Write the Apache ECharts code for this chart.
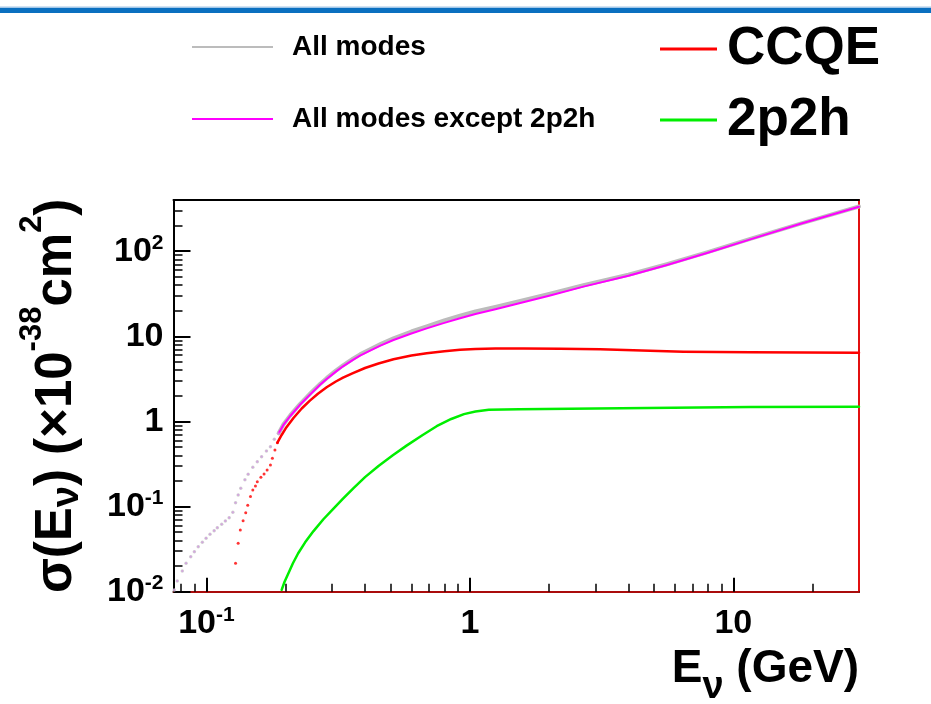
<!DOCTYPE html>
<html>
<head>
<meta charset="utf-8">
<script src="https://cdn.jsdelivr.net/npm/echarts@6.0.0/dist/echarts.min.js"></script>
<style>
  html, body { margin: 0; padding: 0; background: #ffffff; }
  #chart { width: 931px; height: 704px; }
</style>
</head>
<body>
<div id="chart"></div>
<script>
// Axis ranges: neutrino energy (GeV) and cross section (x 1e-38 cm^2)
const xRange = [0.075, 30];
const yRange = [0.01, 400];

// Tick positions and their labels ([mantissa, exponent])
const xMajorTicks = [0.1, 1, 10];
const xMinorTicks = [0.08, 0.09, 0.2, 0.3, 0.4, 0.5, 0.6, 0.7, 0.8, 0.9, 2, 3, 4, 5, 6, 7, 8, 9, 20];
const xTickLabels = [['10', '-1'], ['1', ''], ['10', '']];
const yMajorTicks = [0.01, 0.1, 1, 10, 100];
const yMinorTicks = [0.02, 0.03, 0.04, 0.05, 0.06, 0.07, 0.08, 0.09,
                     0.2, 0.3, 0.4, 0.5, 0.6, 0.7, 0.8, 0.9,
                     2, 3, 4, 5, 6, 7, 8, 9,
                     20, 30, 40, 50, 60, 70, 80, 90, 200, 300];
const yTickLabels = [['10', '-2'], ['10', '-1'], ['1', ''], ['10', ''], ['10', '2']];

// Sparse low-energy bins, drawn as points (both inclusive curves coincide here)
const lowE     = [0.0755, 0.0775, 0.081, 0.0837, 0.0872, 0.090, 0.0931, 0.0965, 0.0997, 0.1032,
                  0.107, 0.110, 0.1143, 0.118, 0.122, 0.126, 0.129, 0.132, 0.135, 0.140,
                  0.144, 0.150, 0.156, 0.162, 0.169, 0.175, 0.181, 0.188];
const lowSigma = [0.0105, 0.0134, 0.0175, 0.0216, 0.0258, 0.0295, 0.0338, 0.0381, 0.0425, 0.0473,
                  0.0521, 0.0565, 0.062, 0.0678, 0.0741, 0.0857, 0.111, 0.137, 0.164, 0.206,
                  0.240, 0.290, 0.337, 0.386, 0.450, 0.506, 0.618, 0.726];

// Inclusive curves above the sparse region
const inclE       = [0.188, 0.196, 0.208, 0.226, 0.25, 0.27, 0.286, 0.31, 0.33, 0.36,
                     0.383, 0.42, 0.46, 0.513, 0.6, 0.686, 0.8, 0.918, 1.05, 1.25,
                     1.54, 2.0, 2.7, 4.0, 5.6, 8.0, 11.6, 18, 30];
const allSigma    = [0.726, 0.92, 1.18, 1.59, 2.19, 2.76, 3.23, 3.96, 4.57, 5.46,
                     6.15, 7.10, 8.17, 9.48, 11.4, 13.1, 15.4, 17.5, 19.6, 22.2,
                     25.9, 31.4, 39.8, 52.9, 70.4, 97.5, 139.5, 211.5, 335.5];
const no2p2hSigma = [0.726, 0.91, 1.16, 1.56, 2.14, 2.70, 3.15, 3.85, 4.45, 5.3,
                     5.95, 6.85, 7.85, 9.07, 10.8, 12.4, 14.4, 16.3, 18.3, 20.8,
                     24.5, 30.0, 38.4, 51.5, 69, 96, 138, 210, 334];

// CCQE: sparse points near threshold, then continuous
const ccqeLowE     = [0.129, 0.132, 0.1345, 0.1378, 0.141, 0.1435, 0.147, 0.150, 0.1535,
                      0.156, 0.161, 0.1655, 0.170, 0.175, 0.178, 0.182, 0.186];
const ccqeLowSigma = [0.0216, 0.037, 0.0531, 0.0683, 0.0848, 0.104, 0.131, 0.157, 0.175,
                      0.196, 0.221, 0.242, 0.269, 0.308, 0.370, 0.463, 0.564];
const ccqeE        = [0.186, 0.193, 0.200, 0.214, 0.23, 0.247, 0.265, 0.286, 0.31, 0.33,
                      0.36, 0.40, 0.45, 0.513, 0.60, 0.686, 0.80, 0.918, 1.05, 1.25,
                      1.6, 2.2, 3.12, 6.46, 11.6, 30];
const ccqeSigma    = [0.564, 0.694, 0.83, 1.10, 1.42, 1.76, 2.12, 2.52, 2.95, 3.27,
                      3.70, 4.25, 4.80, 5.38, 5.95, 6.35, 6.70, 6.95, 7.10, 7.2,
                      7.2, 7.15, 7.05, 6.61, 6.50, 6.43];

// 2p2h
const mecE     = [0.193, 0.198, 0.206, 0.213, 0.223, 0.237, 0.255, 0.278, 0.303, 0.33,
                  0.361, 0.40, 0.45, 0.51, 0.575, 0.66, 0.748, 0.85, 0.95, 1.05,
                  1.18, 1.54, 3.0, 11.6, 30];
const mecSigma = [0.0105, 0.0131, 0.0172, 0.0216, 0.0283, 0.038, 0.0515, 0.071, 0.094, 0.124,
                  0.164, 0.222, 0.30, 0.40, 0.52, 0.69, 0.88, 1.07, 1.22, 1.31,
                  1.37, 1.39, 1.42, 1.48, 1.49];

const FONT = '"Liberation Sans", Arial, Helvetica, sans-serif';

function zip(xs, ys) { return xs.map((x, i) => [x, ys[i]]); }

function tickFormatter(ticks, labels) {
  return function (v) {
    for (let i = 0; i < ticks.length; i++) {
      if (Math.abs(v / ticks[i] - 1) < 1e-6) {
        const m = labels[i][0], e = labels[i][1];
        return e ? '{b|' + m + '}{s|' + e + '}' : '{b|' + m + '}';
      }
    }
    return '';
  };
}

const tickRich = {
  b: { fontFamily: FONT, fontWeight: 'bold', fontSize: 34, lineHeight: 38, color: '#000' },
  s: { fontFamily: FONT, fontWeight: 'bold', fontSize: 21, lineHeight: 22, color: '#000', verticalAlign: 'top' }
};

const chart = echarts.init(document.getElementById('chart'), null, { renderer: 'canvas' });

const legendText = (size, lh, padLeft) => ({
  fontFamily: FONT, fontWeight: 'bold', fontSize: size, lineHeight: lh, color: '#000',
  padding: [0, 0, 0, padLeft]
});

const lineSeries = (name, xs, ys, color, width, z) => ({
  name, type: 'line', data: zip(xs, ys), color,
  showSymbol: false, smooth: false, lineStyle: { width, color, join: 'round', cap: 'round' }, z
});

const pointSeries = (name, xs, ys, color, size, z) => ({
  name, type: 'scatter', data: zip(xs, ys), color, symbolSize: size, z
});

chart.setOption({
  animation: false,
  backgroundColor: '#ffffff',
  graphic: [
    { type: 'rect', shape: { x: 0, y: 6.5, width: 931, height: 1.5 }, style: { fill: '#a3c7e8' } },
    { type: 'rect', shape: { x: 0, y: 8, width: 931, height: 5 }, style: { fill: '#0a70c0' } }
  ],
  legend: [
    { data: ['All modes'], left: 192, top: 31, padding: 0, icon: 'rect', itemWidth: 81, itemHeight: 2,
      selectedMode: false, textStyle: legendText(28, 32, 14) },
    { data: ['All modes except 2p2h'], left: 192, top: 103, padding: 0, icon: 'rect', itemWidth: 81, itemHeight: 2,
      selectedMode: false, textStyle: legendText(28, 32, 14) },
    { data: ['CCQE'], left: 660, top: 21, padding: 0, icon: 'rect', itemWidth: 57, itemHeight: 3,
      selectedMode: false, textStyle: legendText(53, 56, 5) },
    { data: ['2p2h'], left: 660, top: 92, padding: 0, icon: 'rect', itemWidth: 57, itemHeight: 3,
      selectedMode: false, textStyle: legendText(53, 56, 5) }
  ],
  grid: { left: 173.5, top: 200, right: 72, bottom: 112.3, outerBoundsMode: 'none', containLabel: false },
  xAxis: [
    {
      type: 'log', position: 'bottom', min: xRange[0], max: xRange[1],
      axisLine: { show: true, lineStyle: { color: '#000', width: 2 } },
      axisTick: { show: true, inside: true, length: 14, customValues: xMajorTicks, lineStyle: { color: '#000', width: 2 } },
      axisLabel: { show: true, customValues: xMajorTicks, margin: 13, formatter: tickFormatter(xMajorTicks, xTickLabels), rich: tickRich },
      splitLine: { show: false }, minorTick: { show: false },
      name: '{m|E}{sub|ν}{m| (GeV)}', nameLocation: 'end', nameGap: 0, nameMoveOverlap: false,
      nameTextStyle: {
        fontFamily: FONT, fontWeight: 'bold', fontSize: 46, lineHeight: 50, color: '#000',
        align: 'right', verticalAlign: 'top', padding: [55, 0, 0, 0],
        rich: {
          m: { fontFamily: FONT, fontWeight: 'bold', fontSize: 46, verticalAlign: 'top', color: '#000' },
          sub: { fontFamily: FONT, fontWeight: 'bold', fontSize: 38, verticalAlign: 'top', padding: [22, 0, 0, 0], color: '#000' }
        }
      }
    },
    {
      type: 'log', position: 'bottom', min: xRange[0], max: xRange[1],
      axisLine: { show: true, lineStyle: { color: '#e21010', width: 1.5 } },
      axisTick: { show: true, inside: true, length: 8, customValues: xMinorTicks, lineStyle: { color: '#000', width: 1.5 } },
      axisLabel: { show: false }, splitLine: { show: false }
    },
    {
      type: 'log', position: 'top', min: xRange[0], max: xRange[1],
      axisLine: { show: true, lineStyle: { color: '#000', width: 2 } },
      axisTick: { show: false }, axisLabel: { show: false }, splitLine: { show: false }
    }
  ],
  yAxis: [
    {
      type: 'log', position: 'left', min: yRange[0], max: yRange[1],
      axisLine: { show: true, lineStyle: { color: '#000', width: 2 } },
      axisTick: { show: true, inside: true, length: 17, customValues: yMajorTicks, lineStyle: { color: '#000', width: 2 } },
      axisLabel: { show: true, customValues: yMajorTicks, margin: 10, formatter: tickFormatter(yMajorTicks, yTickLabels), rich: tickRich },
      splitLine: { show: false }, minorTick: { show: false },
      name: 'σ(E{sub|ν}) (×10{sup|-38}cm{sup|2})', nameLocation: 'middle', nameRotate: 90, nameGap: 77, nameMoveOverlap: false,
      nameTextStyle: {
        fontFamily: FONT, fontWeight: 'bold', fontSize: 51, lineHeight: 80, color: '#000',
        rich: {
          sub: { fontFamily: FONT, fontWeight: 'bold', fontSize: 38, verticalAlign: 'bottom', padding: [0, 0, 10, 0], color: '#000' },
          sup: { fontFamily: FONT, fontWeight: 'bold', fontSize: 31, lineHeight: 24, verticalAlign: 'top', color: '#000' }
        }
      }
    },
    {
      type: 'log', position: 'left', min: yRange[0], max: yRange[1],
      axisLine: { show: false },
      axisTick: { show: true, inside: true, length: 9, customValues: yMinorTicks, lineStyle: { color: '#000', width: 1.5 } },
      axisLabel: { show: false }, splitLine: { show: false }
    },
    {
      type: 'log', position: 'right', min: yRange[0], max: yRange[1],
      axisLine: { show: true, lineStyle: { color: '#e21010', width: 2 } },
      axisTick: { show: false }, axisLabel: { show: false }, splitLine: { show: false }
    }
  ],
  series: [
    lineSeries('All modes', inclE, allSigma, '#bcbcbc', 4, 2),
    pointSeries('All modes', lowE, lowSigma, '#c6c6c6', 3.5, 2),
    lineSeries('All modes except 2p2h', inclE, no2p2hSigma, '#ff00ff', 2, 3),
    pointSeries('All modes except 2p2h', lowE, lowSigma, '#d597e4', 2.2, 3),
    lineSeries('CCQE', ccqeE, ccqeSigma, '#ff0000', 2.5, 4),
    pointSeries('CCQE', ccqeLowE, ccqeLowSigma, '#ff0000', 3, 4),
    lineSeries('2p2h', mecE, mecSigma, '#00ee00', 2.5, 4)
  ]
});
</script>
</body>
</html>
